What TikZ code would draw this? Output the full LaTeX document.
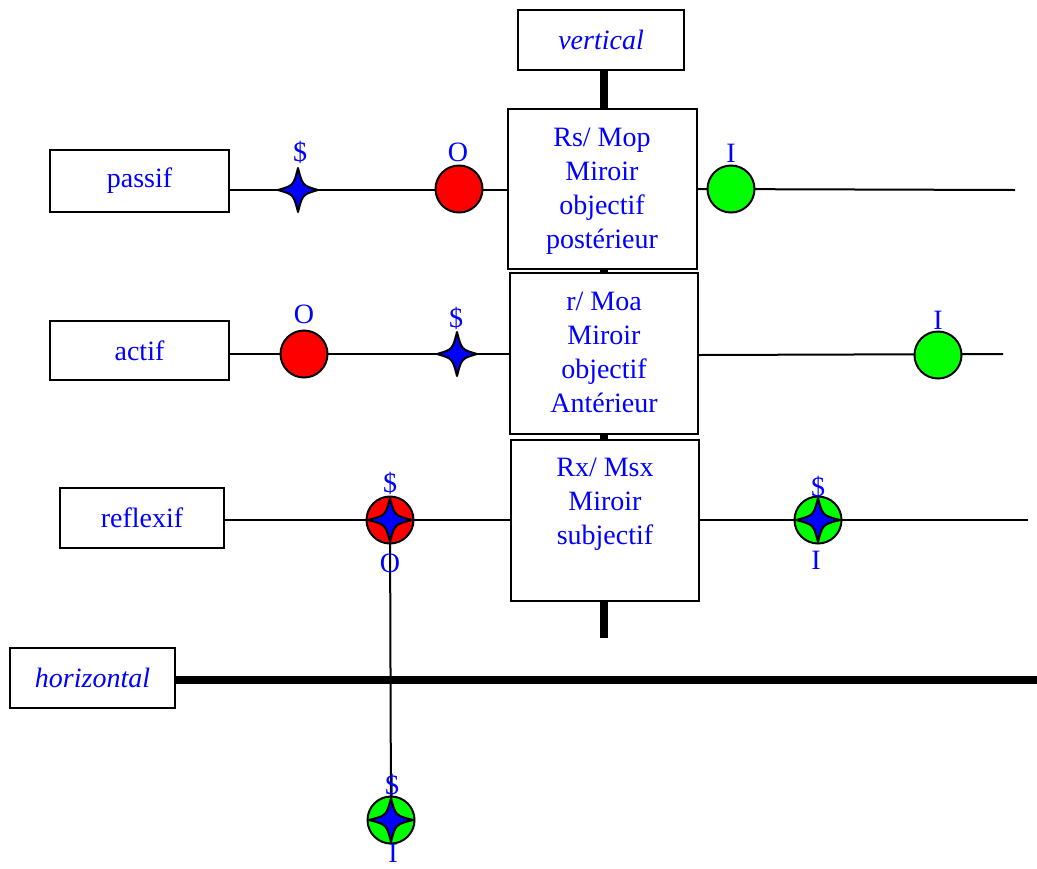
\documentclass[tikz,border=0pt]{standalone}
\usepackage{fontspec}
\setmainfont{Liberation Serif}
\begin{document}
\def\px{0.75pt}
\begin{tikzpicture}[x=0.75pt,y=-0.75pt,
  lbl/.style={text=blue,font=\fontsize{21}{25.5}\selectfont,inner sep=0pt},
  boxnode/.style={draw=black,line width=1.5pt,fill=white,inner sep=0pt},
  txt/.style={lbl,align=center},
  thin/.style={line width=1.5pt},
  thick/.style={line width=6pt},
  redball/.style={circle,draw=black,line width=1.5pt,fill=red,minimum size=47*\px,inner sep=0pt},
  greenball/.style={circle,draw=black,line width=1.5pt,fill=green,minimum size=47*\px,inner sep=0pt},
  starfill/.style={fill=blue,draw=black,line width=1.5pt,line join=round}]
\useasboundingbox (0,0) rectangle (1037,868);

% boxes (placed first so connectors can reference them)
\node[boxnode,minimum width=166*\px,minimum height=60*\px] (vbox) at (601,40) {};
\node[boxnode,minimum width=189*\px,minimum height=160*\px] (b1) at (602.5,189) {};
\node[boxnode,minimum width=188*\px,minimum height=161*\px] (b2) at (604,353.5) {};
\node[boxnode,minimum width=188*\px,minimum height=161*\px] (b3) at (605,520.5) {};
\node[boxnode,minimum width=179*\px,minimum height=62*\px] (passif) at (139.5,181) {};
\node[boxnode,minimum width=179*\px,minimum height=59*\px] (actif) at (139.5,350.5) {};
\node[boxnode,minimum width=164*\px,minimum height=60*\px] (reflexif) at (142,518) {};
\node[boxnode,minimum width=165*\px,minimum height=60*\px] (hbox) at (92.5,678) {};

% marker positions
\coordinate (s1) at (298,190);
\coordinate (o1) at (459,189);
\coordinate (i1) at (731,189);
\coordinate (e1) at (1015,190);
\coordinate (o2) at (304,354);
\coordinate (s2) at (457,354);
\coordinate (i2) at (938,355);
\coordinate (e2) at (1003,354);
\coordinate (o3) at (390,520);
\coordinate (i3) at (818,520);
\coordinate (e3) at (1028,520);
\coordinate (i4) at (391,820);
\coordinate (vend) at (604,638);
\coordinate (hend) at (1037,680);

% thin connectors
\draw[thin] (passif.east |- s1) -- (b1.west |- s1);
\draw[thin] (b1.east |- i1) -- (e1);
\draw[thin] (actif.east |- o2) -- (b2.west |- o2);
\draw[thin] (b2.east |- i2) -- (e2);
\draw[thin] (reflexif.east |- o3) -- (b3.west |- o3);
\draw[thin] (b3.east |- i3) -- (e3);
\draw[thin] (o3) -- (i4);

% thick axes
\draw[thick] (vbox.south -| vend) -- (vend);
\draw[thick] (hbox.east |- hend) -- (hend);

% redraw boxes on top of the vertical axis
\node[boxnode,minimum width=189*\px,minimum height=160*\px] at (b1) {};
\node[boxnode,minimum width=188*\px,minimum height=161*\px] at (b2) {};
\node[boxnode,minimum width=188*\px,minimum height=161*\px] at (b3) {};

% box texts
\node[lbl] (tv) at (vbox) {\itshape vertical};
\node[lbl] (tp) at (passif) {passif};
\node[lbl] (ta) at (actif) {actif};
\node[lbl] (tr) at (reflexif) {reflexif};
\node[lbl] (th) at (hbox) {\itshape horizontal};
\node[txt] (t1) at (602,191.5) {Rs/ Mop\\Miroir\\objectif\\postérieur};
\node[txt] (t2) at (604,352.5) {r/ Moa\\Miroir\\objectif\\Antérieur};
\node[txt] (t3) at (605,504) {Rx/ Msx\\Miroir\\subjectif};

% balls
\node[redball] (ro1) at (o1) {};
\node[greenball] (gi1) at (i1) {};
\node[redball] (ro2) at (o2) {};
\node[greenball] (gi2) at (i2) {};
\node[redball] (ro3) at (o3) {};
\node[greenball] (gi3) at (i3) {};
\node[greenball] (gi4) at (i4) {};

% four-pointed stars
\foreach \c/\r in {s1/20,s2/20,o3/22,i3/22,i4/22}{
  \draw[starfill,shift={(\c)}] (\r,0) .. controls (4.5,4.5) .. (0,22)
    .. controls (-4.5,4.5) .. (-\r,0) .. controls (-4.5,-4.5) .. (0,-22)
    .. controls (4.5,-4.5) .. cycle;
}

% marker labels
\node[lbl] (l1) at (300,152) {\$};
\node[lbl] (l2) at (458,152) {O};
\node[lbl] (l3) at (731,153) {I};
\node[lbl] (l4) at (304,314) {O};
\node[lbl] (l5) at (456,318) {\$};
\node[lbl] (l6) at (938,320) {I};
\node[lbl] (l7) at (390,483) {\$};
\node[lbl] (l8) at (390,563) {O};
\node[lbl] (l9) at (818,487) {\$};
\node[lbl] (l10) at (816,560) {I};
\node[lbl] (l11) at (392,785) {\$};
\node[lbl] (l12) at (393,853) {I};
\end{tikzpicture}
\end{document}
